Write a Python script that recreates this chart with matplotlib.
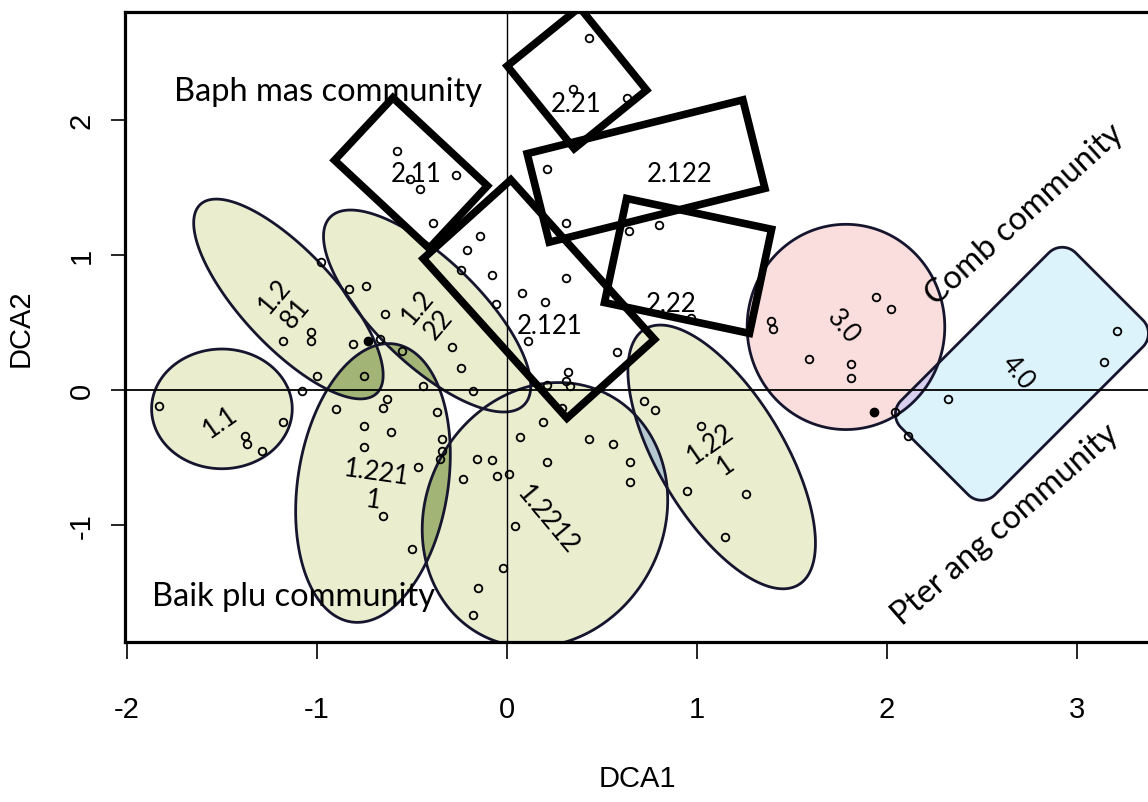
import numpy as np
import matplotlib.pyplot as plt
from matplotlib.patches import Polygon

plt.rcParams['axes.unicode_minus'] = False

# 样方点 (DCA1, DCA2)
site_x = [-0.58, -0.51, -0.46, -0.27, -0.39, -0.14, -0.21, 0.43, 0.35, 0.63,
          0.21, 0.31, 0.64, 0.80, -0.98, -0.83, -0.74, -0.64, -1.03, -1.03,
          -1.18, -0.81, -0.67, -0.55, -0.29, -0.24, -1.00, -0.75, -1.08, -0.44,
          -0.18, -0.24, -0.08, -0.06, 0.08, 0.20, 0.31, 0.11, 0.58, 0.32,
          0.31, 0.33, 0.21, -1.83, -1.18, -1.38, -1.37, -1.29, -0.90, -0.63,
          -0.65, -0.37, -0.75, -0.61, -0.34, -0.34, -0.35, -0.75, -0.47, -0.65,
          -0.50, -0.16, -0.08, -0.05, 0.01, -0.23, 0.04, -0.02, -0.15, -0.18,
          0.19, 0.07, 0.43, 0.56, 0.65, 0.65, 0.21, 0.72, 0.78, 1.02,
          0.95, 1.26, 1.15, 0.97, 1.39, 1.40, 1.59, 1.81, 1.81, 1.94,
          2.02, 2.04, 2.32, 2.11, 3.21, 3.14, 0.29]
site_y = [1.77, 1.56, 1.49, 1.59, 1.24, 1.14, 1.04, 2.61, 2.23, 2.16,
          1.64, 1.24, 1.18, 1.22, 0.95, 0.75, 0.77, 0.56, 0.43, 0.36,
          0.36, 0.34, 0.38, 0.29, 0.32, 0.16, 0.10, 0.10, -0.01, 0.03,
          -0.01, 0.89, 0.85, 0.64, 0.72, 0.65, 0.83, 0.36, 0.28, 0.13,
          0.07, 0.03, 0.04, -0.12, -0.24, -0.34, -0.40, -0.45, -0.14, -0.07,
          -0.13, -0.16, -0.27, -0.31, -0.36, -0.45, -0.51, -0.42, -0.57, -0.93,
          -1.18, -0.51, -0.52, -0.64, -0.62, -0.66, -1.01, -1.32, -1.47, -1.67,
          -0.24, -0.35, -0.36, -0.40, -0.53, -0.68, -0.53, -0.08, -0.15, -0.27,
          -0.75, -0.77, -1.09, 0.53, 0.51, 0.45, 0.23, 0.19, 0.09, 0.69,
          0.60, -0.16, -0.07, -0.34, 0.44, 0.21, -0.13]
filled_x = [-0.73, 1.93]
filled_y = [0.36, -0.16]

# 椭圆: 中心, 长短轴(x轴单位), 角度(屏幕上)
ell_cx = [-1.50, -1.15, -0.42, -0.705, 0.20, 1.13, 1.784]
ell_cy = [-0.14, 0.674, 0.585, -0.689, -0.925, -0.496, 0.467]
ell_w = [0.74, 1.36, 1.42, 1.48, 1.43, 1.57, 1.04]
ell_h = [0.63, 0.50, 0.55, 0.79, 1.25, 0.66, 1.08]
ell_ang = [0, -47, -44, 81, 62, -59, 0]
green = '#eaeecf'
pink = '#fadede'
ell_color = [green, green, green, green, green, green, pink]

# 矩形框 2.11, 2.21, 2.122, 2.22, 2.121
rect_cx = [-0.505, 0.368, 0.732, 0.953, 0.168]
rect_cy = [1.607, 2.311, 1.622, 0.919, 0.674]
rect_w = [0.68, 0.56, 1.17, 0.78, 1.13]
rect_h = [0.45, 0.49, 0.48, 0.56, 0.62]
rect_ang = [-43, -51, 14, -12, -48]

# 圆角矩形 4.0
box_cx, box_cy, box_w, box_h, box_ang, box_r = 2.71, 0.12, 1.30, 0.70, 45, 0.1

# 组标签
lab_text = ['2.11', '2.21', '2.122', '2.22', '2.121', '1.2\n81', '1.2\n22', '1.1',
            '1.221\n1', '1.2212', '1.22\n1', '3.0', '4.0']
lab_x = [-0.48, 0.363, 0.91, 0.863, 0.226, -1.168, -0.416, -1.51, -0.695, 0.211, 1.11, 1.768, 2.69]
lab_y = [1.60, 2.12, 1.60, 0.637, 0.474, 0.637, 0.556, -0.237, -0.711, -0.956, -0.474, 0.474, 0.133]
lab_rot = [0, 0, 0, 0, 0, 50, 50, 35, -8, -50, 35, -50, -50]

comm_text = ['Baph mas community', 'Baik plu community', 'Comb community', 'Pter ang community']
comm_x = [-0.942, -1.121, 2.726, 2.621]
comm_y = [2.215, -1.526, 1.304, -0.993]
comm_rot = [0, 0, 42, 41]

fig = plt.figure(figsize=(11.48, 8.03), dpi=100)
ax = fig.add_axes([125/1148, 160/803, 1025/1148, 630/803])
ax.set_xlim(-2.01, 3.384)
ax.set_ylim(-1.867, 2.80)

# 屏幕上 x 与 y 单位的比例
p0 = ax.transData.transform((0, 0))
p1 = ax.transData.transform((1, 1))
k = (p1[0] - p0[0]) / (p1[1] - p0[1])


def place(u, v, cx, cy, ang):
    a = np.deg2rad(ang)
    xr = u * np.cos(a) - v * np.sin(a)
    yr = u * np.sin(a) + v * np.cos(a)
    return np.column_stack([cx + xr, cy + yr * k])


def ellipse_pts(cx, cy, w, h, ang):
    t = np.linspace(0, 2 * np.pi, 300)
    return place(w / 2 * np.cos(t), h / 2 * np.sin(t), cx, cy, ang)


def rect_pts(cx, cy, w, h, ang):
    u = np.array([-1, 1, 1, -1]) * w / 2
    v = np.array([-1, -1, 1, 1]) * h / 2
    return place(u, v, cx, cy, ang)


def rounded_pts(cx, cy, w, h, ang, r):
    a, b = w / 2 - r, h / 2 - r
    us, vs = [], []
    for (sx, sy, t0) in [(1, -1, -90), (1, 1, 0), (-1, 1, 90), (-1, -1, 180)]:
        t = np.deg2rad(np.linspace(t0, t0 + 90, 20))
        us.append(sx * a + r * np.cos(t))
        vs.append(sy * b + r * np.sin(t))
    return place(np.concatenate(us), np.concatenate(vs), cx, cy, ang)


ells = [ellipse_pts(ell_cx[i], ell_cy[i], ell_w[i], ell_h[i], ell_ang[i]) for i in range(len(ell_cx))]
box = rounded_pts(box_cx, box_cy, box_w, box_h, box_ang, box_r)

# 填充
ax.add_patch(Polygon(box, closed=True, facecolor='#ddf3fb', edgecolor='none', zorder=1))
for pts, c in zip(ells, ell_color):
    ax.add_patch(Polygon(pts, closed=True, facecolor=c, edgecolor='none', zorder=1))


# 重叠区域
def overlap(pa, pb, color):
    p = Polygon(pa, closed=True, facecolor=color, edgecolor='none', zorder=1.5)
    ax.add_patch(p)
    p.set_clip_path(Polygon(pb, closed=True, transform=ax.transData))


overlap(ells[1], ells[3], '#a3b576')
overlap(ells[2], ells[3], '#a3b576')
overlap(ells[3], ells[4], '#a3b576')
overlap(ells[4], ells[5], '#b5c8d0')
overlap(ells[6], box, '#d8cfee')

# 边线
ax.add_patch(Polygon(box, closed=True, facecolor='none', edgecolor='#15152e', lw=2, zorder=2))
for pts in ells:
    ax.add_patch(Polygon(pts, closed=True, facecolor='none', edgecolor='#15152e', lw=2, zorder=2))

ax.axhline(0, color='black', lw=1.3, zorder=2.5)
ax.axvline(0, color='black', lw=1.0, zorder=2.5)

for i in range(len(rect_cx)):
    ax.add_patch(Polygon(rect_pts(rect_cx[i], rect_cy[i], rect_w[i], rect_h[i], rect_ang[i]),
                         closed=True, facecolor='none', edgecolor='black', lw=5.5,
                         joinstyle='miter', zorder=3))

ax.plot(site_x, site_y, 'o', ms=5.5, mfc='none', mec='black', mew=1.3, zorder=4)
ax.plot(filled_x, filled_y, 'o', ms=6, mfc='black', mec='black', zorder=4)

lab_font = ['Lato', 'DejaVu Sans']
for t, x, y, r in zip(lab_text, lab_x, lab_y, lab_rot):
    ax.text(x, y, t, rotation=r, fontsize=18.5, family=lab_font, ha='center', va='center',
            linespacing=1.1, zorder=5, rotation_mode='anchor')
for t, x, y, r in zip(comm_text, comm_x, comm_y, comm_rot):
    ax.text(x, y, t, rotation=r, fontsize=23.5, family=lab_font, ha='center', va='center',
            zorder=5, rotation_mode='anchor')

# 坐标轴
axis_font = ['Liberation Sans Narrow', 'Liberation Sans', 'DejaVu Sans']
ax.set_xticks([-2, -1, 0, 1, 2, 3])
ax.set_xticklabels(['-2', '-1', '0', '1', '2', '3'], family=axis_font, fontsize=21)
ax.set_yticks([-1, 0, 1, 2])
ax.set_yticklabels(['-1', '0', '1', '2'], family=axis_font, fontsize=21,
                   rotation=90, va='center')
ax.tick_params(axis='x', length=12, width=1.2, pad=26)
ax.tick_params(axis='y', length=10, width=1.2, pad=11)
ax.set_xlabel('DCA1', family=axis_font, fontsize=21, labelpad=30)
ax.set_ylabel('DCA2', family=axis_font, fontsize=21, labelpad=24)
for s in ax.spines.values():
    s.set_linewidth(2.3)

fig.savefig('out.png', dpi=100)
